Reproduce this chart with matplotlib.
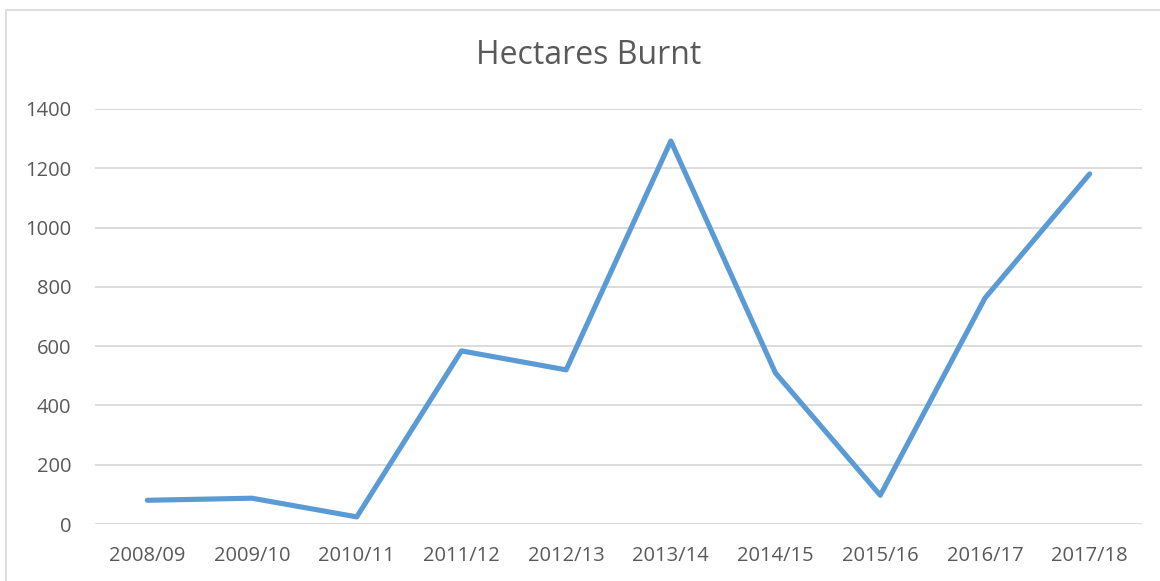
import matplotlib
matplotlib.use("Agg")
import matplotlib.pyplot as plt
from matplotlib.patches import Rectangle

categories = ["2008/09", "2009/10", "2010/11", "2011/12", "2012/13",
              "2013/14", "2014/15", "2015/16", "2016/17", "2017/18"]
hectares = [80, 87, 24, 584, 520, 1292, 509, 97, 762, 1181]
yticks = [0, 200, 400, 600, 800, 1000, 1200, 1400]

plt.rcParams['font.family'] = ['Open Sans', 'DejaVu Sans']
W, H = 1160, 581
fig = plt.figure(figsize=(W / 100, H / 100), dpi=100)
fig.patch.set_facecolor("white")

# chart border
fig.patches.append(Rectangle((6 / W, -0.05), 1.2, 1 - 10 / H + 0.05, transform=fig.transFigure,
                             fill=False, edgecolor="#D9D9D9", linewidth=1.2))

left, right = 95 / W, 1142 / W
bottom, top = 1 - 524 / H, 1 - 109 / H
ax = fig.add_axes([left, bottom, right - left, top - bottom])
x = list(range(len(categories)))
ax.plot(x, hectares, color="#5B9BD5", linewidth=3.7, solid_capstyle="round",
        solid_joinstyle="round", zorder=3)
ax.set_xlim(-0.5, len(categories) - 0.5)
ax.set_ylim(0, 1400)
ax.set_yticks(yticks)
ax.set_yticklabels([str(v) for v in yticks])
ax.set_xticks(x)
ax.set_xticklabels(categories)
ax.grid(axis="y", color="#D9D9D9", linewidth=1.3)
ax.set_axisbelow(True)
for s in ax.spines.values():
    s.set_visible(False)
ax.tick_params(length=0, labelsize=14.5, labelcolor="#595959")
ax.tick_params(axis="y", pad=17)
ax.tick_params(axis="x", pad=16)
fig.text(589 / W, 1 - 55 / H, "Hectares Burnt", ha="center", va="center",
         fontsize=23, color="#595959")
fig.savefig("out.png", dpi=100)
